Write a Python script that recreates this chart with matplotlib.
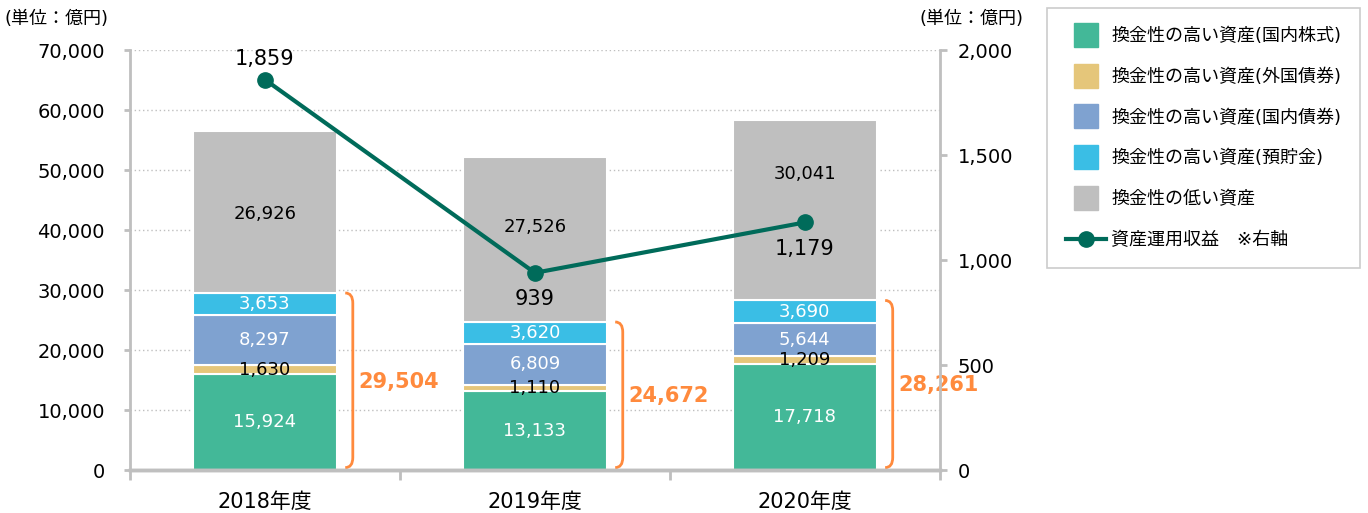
import numpy as np
import matplotlib.pyplot as plt
from matplotlib.path import Path
import matplotlib.patches as mpatches
from matplotlib.lines import Line2D

plt.rcParams['font.family'] = ['DejaVu Sans', 'Noto Sans CJK JP']

# data
years = ['2018年度', '2019年度', '2020年度']
stocks = [15924, 13133, 17718]       # 国内株式
foreign = [1630, 1110, 1209]         # 外国債券
bonds = [8297, 6809, 5644]           # 国内債券
deposit = [3653, 3620, 3690]         # 預貯金
low = [26926, 27526, 30041]          # 低い資産
income = [1859, 939, 1179]           # 資産運用収益 (right axis)

names = ['換金性の高い資産(国内株式)', '換金性の高い資産(外国債券)',
         '換金性の高い資産(国内債券)', '換金性の高い資産(預貯金)',
         '換金性の低い資産']
colors = ['#43B898', '#E5C67A', '#7FA2D0', '#3ABEE5', '#BFBFBF']
txtcol = ['white', 'black', 'white', 'white', 'black']
line_col = '#006B5A'
orange = '#FF8A3D'
gray = '#BFBFBF'

fig = plt.figure(figsize=(13.68, 5.13), dpi=100)
ax = fig.add_axes([0.095, 0.0838, 0.592, 0.8187])
ax2 = ax.twinx()

x = np.arange(len(years))
w = 0.535
series = [stocks, foreign, bonds, deposit, low]
bottom = np.zeros(len(years))
# the gray labels are nudged up a bit so they stay clear of the line
low_shift = [-300, 2000, 6000]
for k, (vals, c, tc) in enumerate(zip(series, colors, txtcol)):
    vals = np.array(vals)
    ax.bar(x, vals, w, bottom=bottom, color=c, edgecolor='white', linewidth=1.5, zorder=2)
    for i in range(len(x)):
        yy = bottom[i] + vals[i] / 2
        if k == 4:
            yy += low_shift[i]
        ax.text(x[i], yy, f'{vals[i]:,}', ha='center', va='center',
                color=tc, fontsize=13, zorder=4)
    bottom += vals

# brackets for the liquid assets total
liquid = np.array(stocks) + np.array(foreign) + np.array(bonds) + np.array(deposit)
for i in range(len(x)):
    x0 = x[i] + w / 2 + 0.03
    x1 = x0 + 0.028
    top = liquid[i]
    bot = 400
    d = 1700
    verts = [(x0, top), (x1, top), (x1, top - d), (x1, bot + d), (x1, bot), (x0, bot)]
    codes = [Path.MOVETO, Path.CURVE3, Path.CURVE3, Path.LINETO, Path.CURVE3, Path.CURVE3]
    ax.add_patch(mpatches.PathPatch(Path(verts, codes), fc='none', ec=orange, lw=2, zorder=3,
                                    clip_on=False))
    ax.text(x1 + 0.02, top / 2, f'{top:,}', ha='left', va='center', color=orange,
            fontsize=15, fontweight='bold', zorder=6, clip_on=False,
            bbox=dict(fc='white', ec='none', pad=1))

ax.set_xlim(-0.5, 2.5)
ax.set_ylim(0, 70000)
ax.set_yticks(np.arange(0, 70001, 10000))
ax.set_yticklabels([f'{v:,}' for v in range(0, 70001, 10000)])
ax.yaxis.grid(True, linestyle=(0, (1, 2)), color='#BFBFBF', linewidth=1, zorder=0)
ax.set_axisbelow(True)
ax.set_xticks(x)
ax.set_xticklabels(years, fontsize=15)
ax.set_xticks([-0.5, 0.5, 1.5, 2.5], minor=True)
ax.tick_params(axis='x', which='major', length=0, pad=16)
ax.tick_params(axis='x', which='minor', length=7, width=2, color=gray)
ax.tick_params(axis='y', labelsize=14, length=4, width=2, color=gray, pad=14)

# line on right axis
ax2.plot(x, income, color=line_col, lw=3, marker='o', markersize=11, zorder=5)
ax2.set_ylim(0, 2000)
ax2.set_yticks(np.arange(0, 2001, 500))
ax2.set_yticklabels([f'{v:,}' for v in range(0, 2001, 500)])
ax2.tick_params(axis='y', labelsize=14, length=5, width=2, color=gray, pad=8)
offsets = [15, -19, -19]
for i in range(len(x)):
    ax2.annotate(f'{income[i]:,}', (x[i], income[i]), xytext=(0, offsets[i]),
                 textcoords='offset points', ha='center', va='center', fontsize=15)

for a in (ax, ax2):
    a.spines['top'].set_visible(False)
    for s in ('left', 'right'):
        a.spines[s].set_color(gray)
        a.spines[s].set_linewidth(2)
    a.spines['bottom'].set_color(gray)
    a.spines['bottom'].set_linewidth(2.5)
ax.spines['right'].set_visible(False)
ax2.spines['left'].set_visible(False)

fig.text(0.003, 0.962, '(単位：億円)', fontsize=13, ha='left', va='center')
fig.text(0.672, 0.962, '(単位：億円)', fontsize=13, ha='left', va='center')

handles = [Line2D([], [], marker='s', ls='none', markersize=17, color=c) for c in colors]
handles.append(Line2D([], [], color=line_col, lw=3, marker='o', markersize=11))
labels = names + ['資産運用収益　※右軸']
leg = fig.legend(handles, labels, loc='upper left', bbox_to_anchor=(0.7655, 0.984),
                 fontsize=13, frameon=True, fancybox=False, edgecolor='#BFBFBF',
                 labelspacing=1.26, handlelength=2.2, handletextpad=0.3,
                 borderpad=1.05, borderaxespad=0)
leg.get_frame().set_linewidth(1.2)

fig.savefig('out.png', dpi=100)
